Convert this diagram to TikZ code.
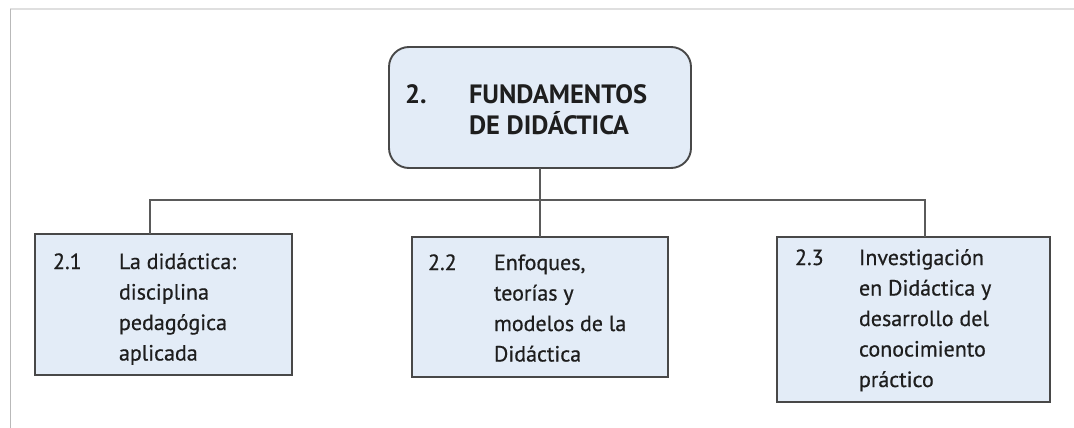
\documentclass[tikz,border=0pt]{standalone}
\usepackage{fontspec}
\setmainfont{PT Sans}
\newfontfamily\lblfont[FakeBold=0.6]{PT Sans}
\definecolor{boxfill}{RGB}{227,236,247}
\definecolor{boxline}{RGB}{72,72,72}
\definecolor{conn}{RGB}{90,90,90}
\definecolor{txt}{RGB}{30,30,30}
\tikzset{
  px/.style={x=1pt,y=-1pt},
  box/.style={draw=boxline,line width=1.9pt,fill=boxfill,inner sep=0pt,outer sep=0pt},
  rbox/.style={box,rounded corners=20pt},
  conline/.style={draw=conn,line width=1.9pt},
  lbl/.style={anchor=base west,inner sep=0pt,outer sep=0pt,text=txt,font=\lblfont\fontsize{22}{30.5}\selectfont},
  tlbl/.style={anchor=base west,inner sep=0pt,outer sep=0pt,text=txt,font=\fontsize{26.5}{29}\selectfont\bfseries},
}
\begin{document}
\begin{tikzpicture}[px]
\useasboundingbox (0,0) rectangle (1074,428);
% frame
\draw[gray!25,line width=2pt] (10,9) -- (1074,9);
\draw[gray!55,line width=1.5pt] (10.5,9) -- (10.5,428);
% boxes
\node[rbox,minimum width=302pt,minimum height=121pt,anchor=north west] (top) at (389,47) {};
\node[box,minimum width=257pt,minimum height=141pt,anchor=north west] (b1) at (35,234) {};
\node[box,minimum width=256pt,minimum height=140pt,anchor=north west] (b2) at (412,237) {};
\node[box,minimum width=273pt,minimum height=165pt,anchor=north west] (b3) at (777,237) {};
% connectors
\coordinate (j1) at (150,200);
\coordinate (j3) at (925,200);
\draw[conline] (b1.north -| j1) -- (j1) -- (j3) -- (b3.north -| j3);
\draw[conline] (top.south) -- (b2.north);
% texts
\node[tlbl] (tn) at (405,103) {2.};
\node[tlbl] (tt) at (469,103) {\begin{tabular}[t]{@{}l@{}}FUNDAMENTOS\\DE DIDÁCTICA\end{tabular}};
\node[lbl] (n1) at (53,269) {2.1};
\node[lbl] (t1) at (119,269) {\begin{tabular}[t]{@{}l@{}}La didáctica:\\disciplina\\pedagógica\\aplicada\end{tabular}};
\node[lbl] (n2) at (428,270) {2.2};
\node[lbl] (t2) at (494,270) {\begin{tabular}[t]{@{}l@{}}Enfoques,\\teorías y\\modelos de la\\Didáctica\end{tabular}};
\node[lbl] (n3) at (795,265) {2.3};
\node[lbl] (t3) at (859,265) {\begin{tabular}[t]{@{}l@{}}Investigación\\en Didáctica y\\desarrollo del\\conocimiento\\práctico\end{tabular}};
\end{tikzpicture}
\end{document}
